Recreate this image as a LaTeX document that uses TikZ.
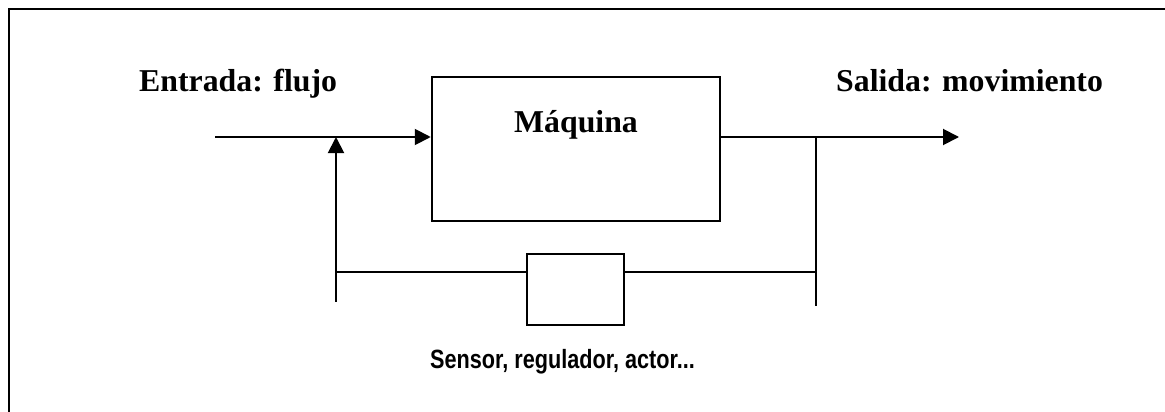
\documentclass[tikz,border=0pt]{standalone}
\usepackage{fontspec}
\setmainfont{Liberation Serif}
\newfontfamily\narrowsans[FakeStretch=0.82]{Liberation Sans}
\usetikzlibrary{arrows.meta}
\tikzset{
  ln/.style={line width=1.9pt, black},
  arr/.style={ln, -{Triangle[length=16pt,width=16pt]}},
  blk/.style={draw, line width=1.9pt, rectangle, inner sep=0pt},
  bigtxt/.style={inner sep=0pt, font=\fontsize{31.8}{38}\selectfont\bfseries},
  smalltxt/.style={inner sep=0pt, font=\narrowsans\fontsize{26.4}{30}\selectfont\bfseries},
}
\begin{document}
\begin{tikzpicture}[x=1pt, y=-1pt]
\useasboundingbox (0,0) rectangle (1165,412);
\fill[white] (0,0) rectangle (1165,412);
\clip (0,0) rectangle (1165,412);
\draw[line width=2.6pt] (9,420) -- (9,9) -- (1175,9);

% blocks
\node[blk, minimum width=288.3pt, minimum height=144pt] (maq) at (575.85,148.7) {};
\node[bigtxt, anchor=base] (maqtxt) at (576,132.7) {Máquina};
\node[blk, minimum width=97pt, minimum height=71.6pt] (sbox) at (575.5,289.5) {};

% labels
\node[bigtxt, anchor=base west] (entrada) at (139,91.7) {Entrada: flujo};
\node[bigtxt, anchor=base west] (salida) at (836,91.7) {Salida: movimiento};
\node[smalltxt, anchor=base] (sensor) at (562.5,368.3) {Sensor, regulador, actor...};

% coordinates
\coordinate (in0) at (215,137);
\coordinate (jL) at (336,137);
\coordinate (bL) at (336,301.7);
\coordinate (fbL) at (336,271.7);
\coordinate (jR) at (815.7,137);
\coordinate (bR) at (815.7,305.7);
\coordinate (fbR) at (815.7,271.7);
\coordinate (out) at (959,137);

% connectors
\draw[arr] (in0) -- (in0 -| maq.west);
\draw[arr] (bL) -- (jL);
\draw[ln] (fbL) -- (fbL -| sbox.west);
\draw[ln] (fbR -| sbox.east) -- (fbR);
\draw[ln] (jR) -- (bR);
\draw[arr] (out -| maq.east) -- (out);
\end{tikzpicture}
\end{document}
